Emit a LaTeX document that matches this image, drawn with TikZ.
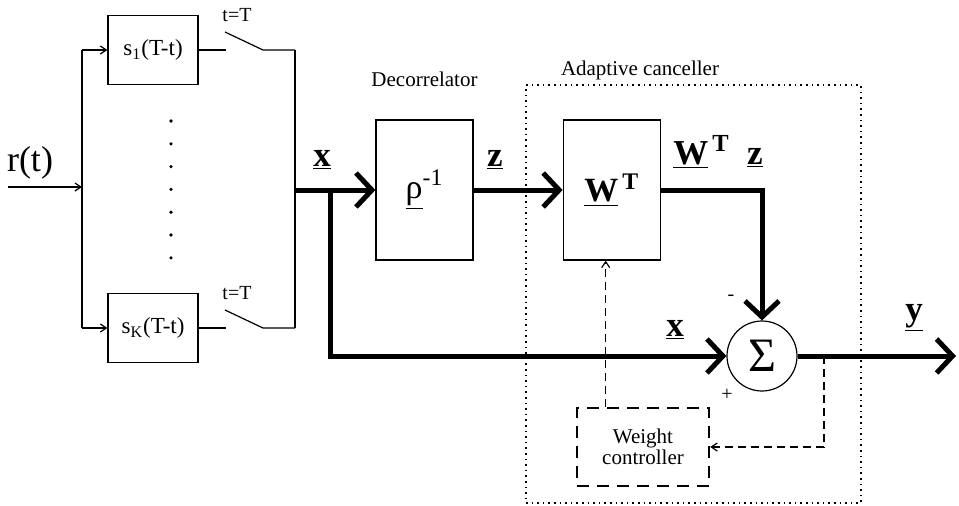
\documentclass[tikz,border=0pt]{standalone}
\usepackage{fontspec}
\setmainfont{Liberation Serif}
\usetikzlibrary{arrows.meta,positioning}

\begin{document}
\begin{tikzpicture}[
    x=0.5pt, y=-0.5pt,
    block/.style={
        rectangle,
        draw=black,
        line width=0.6pt,
        inner sep=0pt
    },
    filterbox/.style={
        block,
        minimum width=45pt,
        minimum height=34.5pt,
        font=\fontsize{11.5}{13}\selectfont
    },
    mainblock/.style={
        block,
        minimum width=48.5pt,
        minimum height=70pt,
        font=\fontsize{17}{19}\selectfont
    },
    wire/.style={line width=0.6pt},
    wirearrow/.style={-{Straight Barb[length=3pt,width=4pt]}, line width=0.6pt},
    bus/.style={line width=2.5pt},
    busarrow/.style={-{Straight Barb[length=8pt,width=17pt]}, line width=2.5pt},
    ctlarrow/.style={-{Straight Barb[length=3pt,width=4pt]}, line width=0.6pt, dash pattern=on 4pt off 2.5pt},
    lbl/.style={font=\fontsize{10.5}{12}\selectfont},
    vec/.style={font=\fontsize{17.5}{19}\selectfont\bfseries}
]
\useasboundingbox (0,0) rectangle (959,505);

% matched filter bank
\node[filterbox] (s1) at (153,50) {s\textsubscript{1}(T-t)};
\node[filterbox] (sK) at (153,328) {s\textsubscript{K}(T-t)};
\foreach \k in {0,...,6}
    \fill (171,121+22.8*\k) circle (0.9pt);

\coordinate (rin) at (8,187);
\coordinate (split) at (82,187);
\node[font=\fontsize{18}{20}\selectfont] (rlbl) at (30,163) {r(t)};
\draw[wirearrow] (rin) -- (split);
\draw[wire] (split |- s1) -- (split |- sK);
\draw[wirearrow] (split |- s1) -- (s1.west);
\draw[wirearrow] (split |- sK) -- (sK.west);

% samplers
\foreach \b/\yy in {s1/50, sK/328} {
    \draw[wire] (\b.east) -- (226,\yy);
    \draw[wire] (225,\yy-18) -- (263,\yy) -- (295,\yy);
    \node[font=\fontsize{10}{12}\selectfont] (tT-\b) at (237,\yy-35) {t=T};
}
\draw[wire] (295,50) -- (295,328);
\coordinate (join) at (295,190);
\coordinate (tap) at (330,190);

% decorrelator and canceller
\node[mainblock] (decor) at (424.5,190) {\underline{ρ}\textsuperscript{-1}};
\node[lbl, above=13pt of decor] (decorlbl) {Decorrelator};
\node[mainblock, right=44.5pt of decor] (wbox) {\underline{\textbf{W}}\textsuperscript{\,\textbf{T}}};
\node[circle, draw, line width=0.6pt, minimum size=35pt, inner sep=0pt,
      font=\fontsize{24}{26}\selectfont] (sum) at (762,356) {Σ};
\node[block, line width=1.2pt, dash pattern=on 6pt off 4pt, align=center,
      minimum width=66pt, minimum height=39pt,
      font=\fontsize{10.5}{9.5}\selectfont] (wctl) at (643,447) {Weight\\controller};
\node[rectangle, draw, dotted, line width=0.8pt, minimum width=167.5pt,
      minimum height=209pt] (canc) at (693.5,294) {};
\node[lbl] (canclbl) at (640,70) {Adaptive canceller};

% signal labels
\node[vec] (xlbl) at (322,160) {\underline{x}};
\node[vec] (zlbl) at (495,160) {\underline{z}};
\node[vec] (wzlbl) at (718,152) {\underline{W}\textsuperscript{\,T}\ \ \underline{z}};
\node[vec] (x2lbl) at (675,330) {\underline{x}};
\node[vec] (ylbl) at (914,318) {\underline{y}};
\node[font=\fontsize{10}{12}\selectfont] (minus) at (731,298) {-};
\node[font=\fontsize{10}{12}\selectfont] (plus) at (727,395) {+};

% thick signal paths
\draw[busarrow] (join) -- (decor.west);
\draw[busarrow] (tap) -- (tap |- sum) -- (sum.west);
\draw[busarrow] (decor.east) -- (wbox.west);
\draw[busarrow] (wbox.east) -- (wbox.east -| sum) -- (sum.north);
\coordinate (yout) at (956,356);
\draw[busarrow] (sum.east) -- (yout);

% weight update
\coordinate (fb) at (824,356);
\draw[ctlarrow] (fb) -- (fb |- wctl) -- (wctl.east);
\draw[ctlarrow] ([xshift=-3pt]wbox.south |- wctl.north) -- ([xshift=-3pt]wbox.south);

\end{tikzpicture}
\end{document}
